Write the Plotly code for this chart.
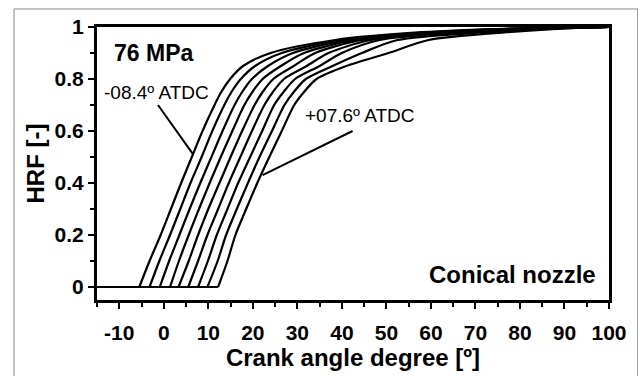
import plotly.graph_objects as go

# HRF levels shared by every curve; each curve lists the crank angle at which it reaches that level
hrf_levels = [0, 0.1, 0.2, 0.3, 0.4, 0.5, 0.6, 0.7, 0.75, 0.8, 0.85, 0.9, 0.95, 0.98, 0.995, 1.0]

soi_labels = ["-08.4", "-06.4", "-04.4", "-02.4", "-00.4", "+01.6", "+03.6", "+05.6", "+07.6"]

angle_c1 = [-5.5, -3.2, -0.7, 1.6, 3.9, 6.3, 8.7, 11.4, 12.9, 14.9, 17.8, 24.0, 38.5, 58, 80, 100]
angle_c2 = [-3.2, -1.0, 1.4, 3.7, 6.0, 8.5, 10.9, 13.6, 15.2, 17.3, 20.5, 26.5, 40.0, 60, 81, 100]
angle_c3 = [-0.9, 1.2, 3.5, 5.8, 8.2, 10.7, 13.2, 15.9, 17.6, 19.8, 23.4, 29.0, 41.5, 62, 82, 100]
angle_c4 = [1.4, 3.4, 5.6, 7.9, 10.3, 12.8, 15.4, 18.1, 19.9, 22.2, 26.3, 31.5, 43.0, 63.5, 83, 100]
angle_c5 = [3.3, 5.6, 7.7, 10.0, 12.5, 15.0, 17.6, 20.4, 22.2, 24.6, 29.2, 34.0, 44.5, 65, 84, 100]
angle_c6 = [5.5, 7.7, 9.8, 12.2, 14.6, 17.2, 19.8, 22.6, 24.5, 27.0, 32.1, 37.0, 46.5, 67, 85, 100]
angle_c7 = [7.7, 9.9, 11.9, 14.3, 16.7, 19.4, 22.1, 24.8, 26.9, 29.5, 35.0, 40.0, 48.5, 69, 86, 100]
angle_c8 = [9.8, 12.1, 14.0, 16.4, 18.9, 21.5, 24.3, 27.1, 29.2, 31.9, 37.9, 44.5, 52.5, 72, 88, 100]
angle_c9 = [12.2, 14.3, 16.1, 18.5, 21.0, 23.7, 26.5, 29.3, 31.5, 34.3, 41.0, 50.5, 59.5, 77, 91, 100]

curves = [angle_c1, angle_c2, angle_c3, angle_c4, angle_c5, angle_c6, angle_c7, angle_c8, angle_c9]

# Crank angle where the HRF traces begin (left edge of the axis)
angle_axis_start = -15

x_ticks = [-10, 0, 10, 20, 30, 40, 50, 60, 70, 80, 90, 100]
x_tick_text = ["-10", "0", "10", "20", "30", "40", "50", "60", "70", "80", "90", "100"]
y_ticks = [0, 0.2, 0.4, 0.6, 0.8, 1]
y_tick_text = ["0", "0.2", "0.4", "0.6", "0.8", "1"]

FONT = "Liberation Sans, Arial, sans-serif"

fig = go.Figure()
for name, angles in zip(soi_labels, curves):
    # zero-HRF stretch before the start of combustion
    fig.add_trace(go.Scatter(
        x=[angle_axis_start, angles[0]], y=[0, 0], mode="lines",
        line=dict(color="black", width=2), showlegend=False, hoverinfo="skip",
    ))
    # heat-release rise
    fig.add_trace(go.Scatter(
        x=angles, y=hrf_levels, mode="lines", name=name + "º ATDC",
        line=dict(color="black", width=2.2, shape="spline", smoothing=0.8),
        showlegend=False,
    ))

axis_common = dict(
    showline=True, linecolor="black", linewidth=3, mirror=True,
    ticks="outside", ticklen=6, tickwidth=2, tickcolor="black",
    showgrid=False, zeroline=False,
    tickfont=dict(family=FONT, size=21, color="black"),
)

fig.update_xaxes(
    range=[-15, 100], tickvals=x_ticks, ticktext=["<b>%s</b>" % t for t in x_tick_text],
    minor=dict(dtick=5, tick0=0, ticks="outside", ticklen=4, tickwidth=2, tickcolor="black"),
    title=dict(text="<b>Crank angle degree [º]</b>", font=dict(family=FONT, size=24, color="black"), standoff=2),
    ticklabelstandoff=6,
    **axis_common,
)
fig.update_yaxes(
    range=[-0.05, 1.0], tickvals=y_ticks, ticktext=["<b>%s</b>" % t for t in y_tick_text],
    minor=dict(dtick=0.1, tick0=0, ticks="outside", ticklen=4, tickwidth=2, tickcolor="black"),
    title=dict(text="<b>HRF [-]</b>", font=dict(family=FONT, size=24, color="black"), standoff=4),
    **axis_common,
)

# Text labels and leader lines
fig.add_annotation(x=-11.6, y=0.90, text="<b>76 MPa</b>", showarrow=False, xanchor="left",
                   font=dict(family=FONT, size=23, color="black"))
fig.add_annotation(x=-13.8, y=0.75, text="-08.4º ATDC", showarrow=False, xanchor="left",
                   font=dict(family=FONT, size=19, color="black"))
fig.add_annotation(x=31.2, y=0.66, text="+07.6º ATDC", showarrow=False, xanchor="left",
                   font=dict(family=FONT, size=19, color="black"))
fig.add_annotation(x=97.6, y=0.05, text="<b>Conical nozzle</b>", showarrow=False, xanchor="right",
                   font=dict(family=FONT, size=24, color="black"))
fig.add_shape(type="line", x0=-1.3, y0=0.70, x1=6.6, y1=0.51, line=dict(color="black", width=2))
fig.add_shape(type="line", x0=42.4, y0=0.60, x1=22.2, y1=0.43, line=dict(color="black", width=2))

# Thin grey frame around the whole figure
fig.add_shape(type="rect", xref="paper", yref="paper", x0=-0.162, x1=1.056, y0=-0.45, y1=1.066,
              line=dict(color="#8a8a8a", width=1), layer="below")

fig.update_layout(
    width=638, height=376,
    margin=dict(l=97, r=29, t=27, b=76),
    paper_bgcolor="white", plot_bgcolor="white",
    font=dict(family=FONT, color="black"),
)

fig.write_html("out.html")
